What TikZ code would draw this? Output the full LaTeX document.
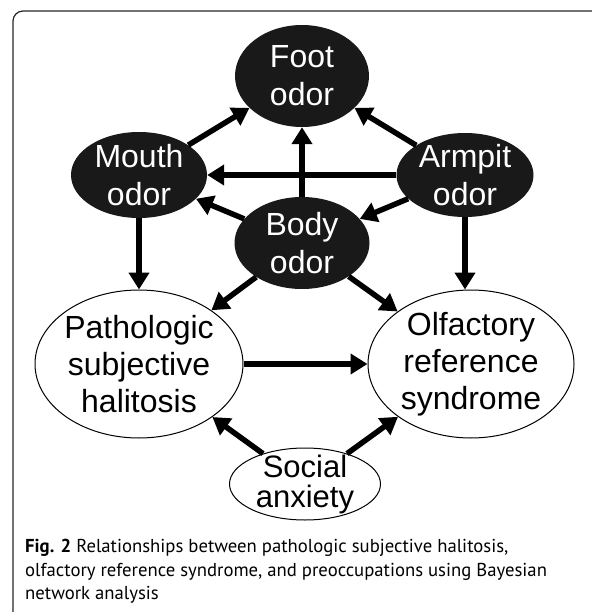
\documentclass[tikz,border=0pt]{standalone}
\usepackage{fontspec}
\setmainfont{Liberation Sans}
\newfontfamily\capfont{PT Sans}
\usetikzlibrary{arrows.meta, shapes.geometric}

\tikzset{
	odor/.style={ellipse, fill=black!90, text=white, inner sep=-20pt, align=center, font=\fontsize{32}{38}\selectfont},
	cond/.style={ellipse, draw, line width=1pt, fill=white, inner sep=-20pt, align=center, font=\fontsize{32}{37}\selectfont},
	link/.style={line width=5.5pt, -{Triangle[length=17pt, width=20pt]}}
}

\begin{document}
\begin{tikzpicture}[x=1pt, y=-1pt]
\useasboundingbox (0,0) rectangle (591,612);

% frame
\draw[black!85, line width=1.2pt, rounded corners=10pt] (13,11) rectangle (620,640);

% preoccupations
\node[odor, minimum width=134pt, minimum height=102pt] (foot) at (302,76) {Foot\\odor};
\node[odor, minimum width=136pt, minimum height=86pt] (mouth) at (139,175) {Mouth\\odor};
\node[odor, minimum width=137pt, minimum height=84pt] (armpit) at (465,175) {Armpit\\odor};
\node[odor, minimum width=135pt, minimum height=92pt] (body) at (302,243) {Body\\odor};

% diagnoses
\node[cond, minimum width=208pt, minimum height=148pt] (psh) at (139,364) {Pathologic\\subjective\\halitosis};
\node[cond, minimum width=206pt, minimum height=148pt] (ors) at (471,364) {Olfactory\\reference\\syndrome};
\node[cond, minimum width=151pt, minimum height=72pt, font=\fontsize{31}{30}\selectfont] (social) at (305,484) {Social\\anxiety};

% links
\draw[link] (mouth) -- (foot);
\draw[link] (armpit) -- (foot);
\draw[link] (body) -- (foot);
\draw[link] (armpit) -- (mouth);
\draw[link] (body) -- (mouth);
\draw[link] (armpit) -- (body);
\draw[link] (mouth) -- (psh);
\draw[link] (armpit) -- (armpit |- ors.north);
\draw[link] (body) -- (psh);
\draw[link] (body) -- (ors);
\draw[link] (psh) -- (ors);
\draw[link] (social) -- (psh);
\draw[link] (social) -- (ors);

% caption
\node[anchor=north west, inner sep=0, align=left, font=\capfont\fontsize{18.7}{23.5}\selectfont] (caption) at (25,539)
	{\textbf{Fig. 2} Relationships between pathologic subjective halitosis,\\
	 olfactory reference syndrome, and preoccupations using Bayesian\\
	 network analysis};

\end{tikzpicture}
\end{document}
